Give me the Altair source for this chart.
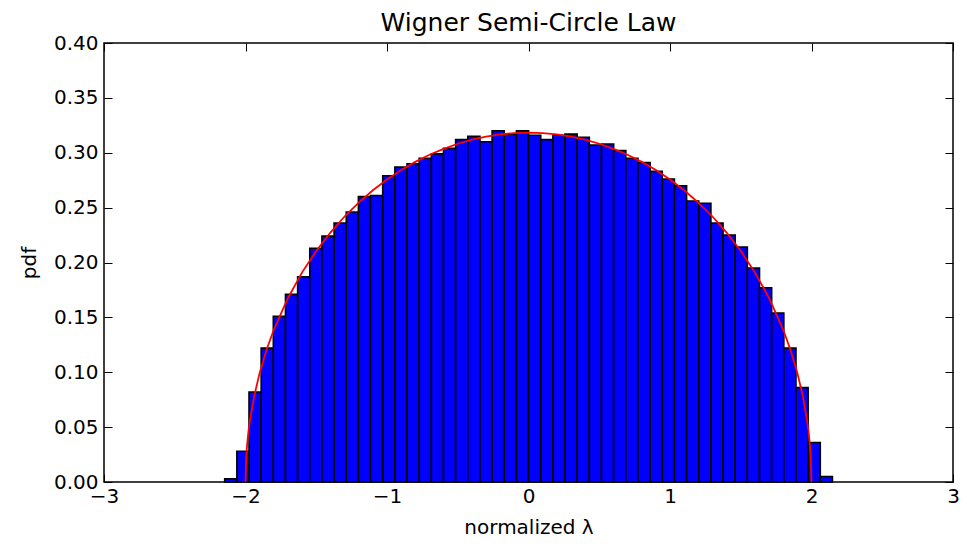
import altair as alt
import pandas as pd

# Histogram: 50 equal bins
bin_start = -2.147
bin_width = 0.0859
heights = [0.003, 0.028, 0.082, 0.122, 0.151, 0.171, 0.187, 0.213, 0.224, 0.236,
           0.246, 0.260, 0.261, 0.279, 0.287, 0.290, 0.295, 0.299, 0.304, 0.312,
           0.315, 0.310, 0.320, 0.317, 0.320, 0.316, 0.312, 0.316, 0.317, 0.314,
           0.307, 0.308, 0.302, 0.295, 0.291, 0.283, 0.276, 0.270, 0.256, 0.254,
           0.236, 0.225, 0.214, 0.195, 0.177, 0.154, 0.122, 0.086, 0.036, 0.005]

# Red reference curve
curve_x = [-2.0, -1.995, -1.99, -1.98, -1.97, -1.94, -1.9, -1.85, -1.8, -1.7,
           -1.6, -1.5, -1.4, -1.3, -1.2, -1.1, -1.0, -0.9, -0.8, -0.7,
           -0.6, -0.5, -0.4, -0.3, -0.2, -0.1, 0.0, 0.1, 0.2, 0.3,
           0.4, 0.5, 0.6, 0.7, 0.8, 0.9, 1.0, 1.1, 1.2, 1.3,
           1.4, 1.5, 1.6, 1.7, 1.8, 1.85, 1.9, 1.94, 1.97, 1.98,
           1.99, 1.995, 2.0]
curve_y = [0.0, 0.0225, 0.0318, 0.0449, 0.0549, 0.0774, 0.0994, 0.1209, 0.1387, 0.1677,
           0.1910, 0.2105, 0.2273, 0.2419, 0.2546, 0.2658, 0.2757, 0.2843, 0.2917, 0.2982,
           0.3036, 0.3082, 0.3119, 0.3147, 0.3167, 0.3179, 0.3183, 0.3179, 0.3167, 0.3147,
           0.3119, 0.3082, 0.3036, 0.2982, 0.2917, 0.2843, 0.2757, 0.2658, 0.2546, 0.2419,
           0.2273, 0.2105, 0.1910, 0.1677, 0.1387, 0.1209, 0.0994, 0.0774, 0.0549, 0.0449,
           0.0318, 0.0225, 0.0]

x_ticks = [-3, -2, -1, 0, 1, 2, 3]
y_ticks = [0.0, 0.05, 0.10, 0.15, 0.20, 0.25, 0.30, 0.35, 0.40]

bars_df = pd.DataFrame({
    "lo": [bin_start + i * bin_width for i in range(len(heights))],
    "hi": [bin_start + (i + 1) * bin_width for i in range(len(heights))],
    "h": heights,
})
curve_df = pd.DataFrame({"x": curve_x, "y": curve_y})

FONT = "DejaVu Sans"
xscale = alt.Scale(domain=[-3, 3], nice=False, zero=False)
yscale = alt.Scale(domain=[0, 0.4], nice=False)

bars = alt.Chart(bars_df).mark_rect(
    fill="#0000ff", stroke="black", strokeWidth=1.6, opacity=1
).encode(
    x=alt.X("lo:Q", scale=xscale,
            axis=alt.Axis(orient="bottom", values=x_ticks, format="d", offset=-8,
                          tickSize=8, domain=False, grid=False, labelPadding=4,
                          labelFlush=False, labelOverlap=False,
                          title="normalized λ", titlePadding=11)),
    x2="hi:Q",
    y=alt.Y("h:Q", scale=yscale,
            axis=alt.Axis(orient="left", values=y_ticks, format=".2f", offset=-8,
                          tickSize=8, domain=False, grid=False, labelPadding=6,
                          labelFlush=False, labelOverlap=False,
                          title="pdf", titlePadding=14)),
    y2=alt.datum(0),
)

curve = alt.Chart(curve_df).mark_line(color="#ff0000", strokeWidth=1.8).encode(
    x=alt.X("x:Q", scale=xscale,
            axis=alt.Axis(orient="top", values=x_ticks, offset=-8, tickSize=8,
                          domain=False, grid=False, labels=False, title=None)),
    y=alt.Y("y:Q", scale=yscale,
            axis=alt.Axis(orient="right", values=y_ticks, offset=-8, tickSize=8,
                          domain=False, grid=False, labels=False, title=None)),
)

chart = alt.layer(bars, curve).resolve_axis(
    x="independent", y="independent"
).properties(
    width=849,
    height=439,
    title=alt.TitleParams("Wigner Semi-Circle Law", font=FONT, fontSize=25,
                          fontWeight="normal", color="black", anchor="middle",
                          offset=4, dy=7),
    autosize=alt.AutoSizeParams(type="none"),
    padding={"left": 96, "top": 35, "right": 6, "bottom": 56},
    background="white",
).configure_view(
    stroke="black", strokeWidth=1.5
).configure_axis(
    labelFont=FONT, labelFontSize=20, labelColor="black",
    titleFont=FONT, titleFontSize=20, titleColor="black", titleFontWeight="normal",
    tickColor="black", tickWidth=1,
)

chart.save("out.html", embed_options={"renderer": "svg", "actions": False})
